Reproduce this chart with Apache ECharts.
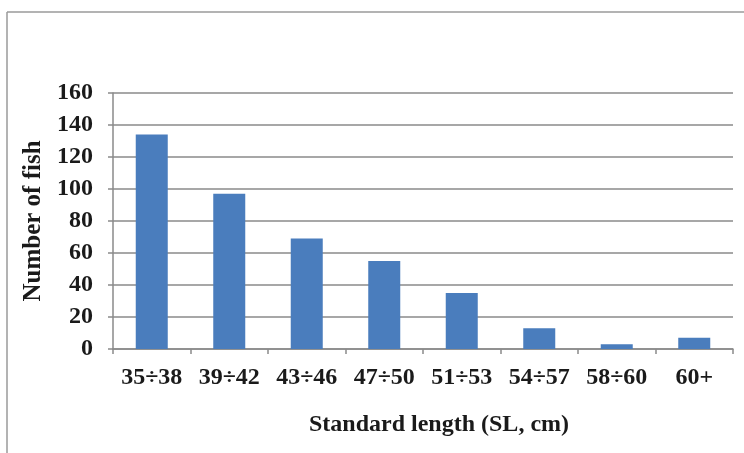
<!DOCTYPE html>
<html>
<head>
<meta charset="utf-8">
<script src="https://cdn.jsdelivr.net/npm/echarts@6/dist/echarts.min.js"></script>
<style>
html,body{margin:0;padding:0;background:#fff;}
#chart{width:744px;height:453px;}
</style>
</head>
<body>
<div id="chart"></div>
<script>
const categories = ['35÷38','39÷42','43÷46','47÷50','51÷53','54÷57','58÷60','60+'];
const fishCounts = [134, 97, 69, 55, 35, 13, 3, 7];
const yTicks = [0, 20, 40, 60, 80, 100, 120, 140, 160];
const xAxisTitle = 'Standard length (SL, cm)';
const yAxisTitle = 'Number of fish';

const font = '"Liberation Serif", "Times New Roman", serif';
const chart = echarts.init(document.getElementById('chart'));
chart.setOption({
  animation: false,
  backgroundColor: '#ffffff',
  graphic: [
    { type: 'line', shape: { x1: 7, y1: 12, x2: 744, y2: 12 }, style: { stroke: '#9a9a9a', lineWidth: 1.5 } },
    { type: 'line', shape: { x1: 7, y1: 12, x2: 7, y2: 453 }, style: { stroke: '#9a9a9a', lineWidth: 1.5 } }
  ],
  grid: { left: 113, right: 11, top: 93, bottom: 104, containLabel: false },
  xAxis: {
    type: 'category',
    data: categories,
    name: xAxisTitle,
    nameLocation: 'middle',
    nameGap: 64,
    nameTextStyle: { fontFamily: font, fontWeight: 'bold', fontSize: 24, color: '#1a1a1a', padding: [0, 0, 0, 32] },
    axisLine: { lineStyle: { color: '#8a8a8a', width: 1.5 } },
    axisTick: { show: true, length: 5, alignWithLabel: false, lineStyle: { color: '#8a8a8a', width: 1.5 } },
    axisLabel: { fontFamily: font, fontWeight: 'bold', fontSize: 24, color: '#1a1a1a', margin: 17, interval: 0 },
    splitLine: { show: false }
  },
  yAxis: {
    type: 'value',
    min: yTicks[0],
    max: yTicks[yTicks.length - 1],
    interval: yTicks[1] - yTicks[0],
    name: yAxisTitle,
    nameLocation: 'middle',
    nameGap: 60,
    nameRotate: 90,
    nameTextStyle: { fontFamily: font, fontWeight: 'bold', fontSize: 25, color: '#1a1a1a' },
    axisLine: { show: true, lineStyle: { color: '#8a8a8a', width: 1.5 } },
    axisTick: { show: true, length: 5, lineStyle: { color: '#8a8a8a', width: 1.5 } },
    axisLabel: { fontFamily: font, fontWeight: 'bold', fontSize: 24, color: '#1a1a1a', margin: 20 },
    splitLine: { show: true, lineStyle: { color: '#8a8a8a', width: 1.5 } }
  },
  series: [{
    type: 'bar',
    data: fishCounts,
    barWidth: 32,
    itemStyle: { color: '#4a7dbd' }
  }]
});
</script>
</body>
</html>
